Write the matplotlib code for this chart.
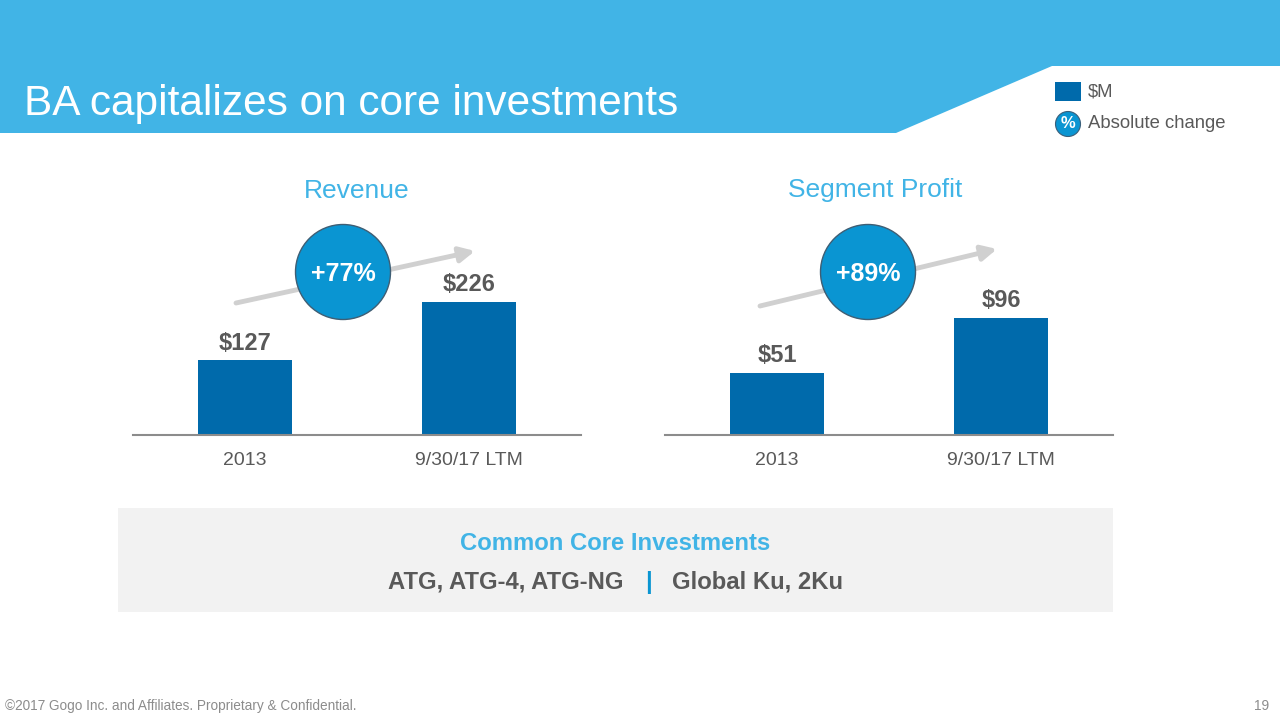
import matplotlib.pyplot as plt
from matplotlib.patches import Polygon, Rectangle, Circle, FancyArrowPatch

plt.rcParams['font.family'] = ['Liberation Sans', 'DejaVu Sans']

# data
categories = ["2013", "9/30/17 LTM"]
revenue = [127, 226]
segment_profit = [51, 96]
panel_titles = ["Revenue", "Segment Profit"]
change_labels = ["+77%", "+89%"]

BAR_BLUE = "#006AAB"
LIGHT_BLUE = "#41B4E6"
CIRCLE_BLUE = "#0A95D2"
GREY_TXT = "#595959"

W, H = 1280, 720
fig = plt.figure(figsize=(12.8, 7.2), dpi=100)

# full-figure axes in pixel coords for slide decorations
bg = fig.add_axes([0, 0, 1, 1])
bg.set_xlim(0, W)
bg.set_ylim(H, 0)
bg.axis("off")

# header band
bg.add_patch(Polygon([(0, 0), (W, 0), (W, 66), (1052, 66), (896, 133), (0, 133)],
                     closed=True, facecolor=LIGHT_BLUE, edgecolor="none"))
bg.text(24, 104, "BA capitalizes on core investments", color="white",
        fontsize=30.5, va="center", ha="left")

# legend
bg.add_patch(Rectangle((1055, 82), 26, 19, facecolor=BAR_BLUE, edgecolor="none"))
bg.text(1088, 92, "$M", fontsize=13.3, color=GREY_TXT, va="center")
bg.add_patch(Circle((1068, 124), 12.5, facecolor=CIRCLE_BLUE, edgecolor="#3A5F7A", lw=0.8))
bg.text(1068, 123, "%", fontsize=12, color="white", fontweight="bold", ha="center", va="center")
bg.text(1088, 124, "Absolute change", fontsize=13.3, color=GREY_TXT, va="center")

# bottom box
bg.add_patch(Rectangle((118, 508), 995, 104, facecolor="#F2F2F2", edgecolor="none"))
bg.text(615, 543, "Common Core Investments", fontsize=17.2, fontweight="bold",
        color=LIGHT_BLUE, ha="center", va="center")
bg.text(624, 582, "ATG, ATG-4, ATG-NG", fontsize=17.2, fontweight="bold",
        color=GREY_TXT, ha="right", va="center")
bg.text(648, 582, "|", fontsize=17.2, fontweight="bold", color="#0A95D2",
        ha="center", va="center")
bg.text(672, 582, "Global Ku, 2Ku", fontsize=17.2, fontweight="bold",
        color=GREY_TXT, ha="left", va="center")

# footer
bg.text(5, 706, "\u00a92017 Gogo Inc. and Affiliates. Proprietary & Confidential.",
        fontsize=9.8, color="#8C8C8C", va="center")
bg.text(1269, 706, "19", fontsize=9.8, color="#8C8C8C", va="center", ha="right")

# chart panels: left px, px per unit, values, title, change, title pos, circle, arrow
panels = [
    (133, 0.59, revenue, panel_titles[0], change_labels[0], (357, 191), (343, 272), (236, 303), (475, 251)),
    (665, 1.22, segment_profit, panel_titles[1], change_labels[1], (875, 190), (868, 272), (760, 306), (997, 249)),
]

base_px = 435
ax_h_px = 180
for left, scale, vals, title, chg, tp, cc, a0, a1 in panels:
    ax = fig.add_axes([left / W, 1 - base_px / H, 448 / W, ax_h_px / H])
    ax.set_facecolor("none")
    ax.bar(range(len(vals)), vals, width=0.42, color=BAR_BLUE)
    ax.set_xlim(-0.5, 1.5)
    ax.set_ylim(0, ax_h_px / scale)
    for s in ["top", "right", "left"]:
        ax.spines[s].set_visible(False)
    ax.spines["bottom"].set_color("#8C8C8C")
    ax.spines["bottom"].set_linewidth(1.5)
    ax.set_yticks([])
    ax.set_xticks(range(len(categories)))
    ax.set_xticklabels(categories, fontsize=14, color=GREY_TXT)
    ax.tick_params(axis="x", length=0, pad=12)
    for i, v in enumerate(vals):
        ax.annotate("$%d" % v, (i, v), xytext=(0, 4), textcoords="offset points",
                    ha="center", va="bottom", fontsize=17, fontweight="bold", color=GREY_TXT)
    bg.text(tp[0], tp[1], title, fontsize=19, color=LIGHT_BLUE, ha="center", va="center")

    # growth arrow + circle
    bg.add_patch(FancyArrowPatch(a0, a1, arrowstyle="-|>,head_length=9,head_width=4.5",
                                 color="#D0D0D0", lw=3.5, mutation_scale=1, zorder=2,
                                 shrinkA=0, shrinkB=0))
    bg.add_patch(Circle(cc, 47.5, facecolor=CIRCLE_BLUE, edgecolor="#3F5E74", lw=1, zorder=3))
    bg.text(cc[0], cc[1] + 2, chg, fontsize=18, fontweight="bold", color="white",
            ha="center", va="center", zorder=4)

fig.savefig("out.png", dpi=100)
